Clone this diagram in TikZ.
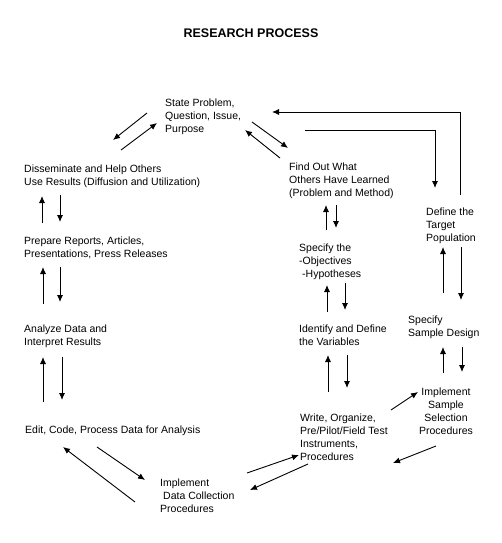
\documentclass[tikz,border=0pt]{standalone}
\usepackage{fontspec}
\setmainfont{Liberation Sans}
\usetikzlibrary{arrows.meta}

\begin{document}
\begin{tikzpicture}[x=1pt,y=-1pt,
  txt/.style={anchor=north west, inner sep=0pt, align=left, font=\fontsize{10.5}{13}\selectfont},
  arr/.style={-{Latex[length=7pt,width=6pt]}, line width=0.9pt}]
\useasboundingbox (0,0) rectangle (502,543);
\node[font=\bfseries\fontsize{12.5}{15}\selectfont] (title) at (251,33) {RESEARCH PROCESS};
% the steps
\node[txt] (state) at (165,99) {State Problem,\\Question, Issue,\\Purpose};
\node[txt] (dissem) at (24,165) {Disseminate and Help Others\\Use Results (Diffusion and Utilization)};
\node[txt] (findout) at (289,163) {Find Out What\\Others Have Learned\\(Problem and Method)};
\node[txt] (define) at (426,208) {Define the\\Target\\Population};
\node[txt] (prep) at (24,237) {Prepare Reports, Articles,\\Presentations, Press Releases};
\node[txt] (specobj) at (299,244) {Specify the\\-Objectives\\\hspace*{3pt}-Hypotheses};
\node[txt] (analyze) at (24,325) {Analyze Data and\\Interpret Results};
\node[txt] (identify) at (299,325) {Identify and Define\\the Variables};
\node[txt] (specsample) at (408,316) {Specify\\Sample Design};
\node[txt] (edit) at (25,426) {Edit, Code, Process Data for Analysis};
\node[txt] (write) at (300,414) {Write, Organize,\\Pre/Pilot/Field Test\\Instruments,\\Procedures};
\node[txt, anchor=north, align=center] (impsample) at (446,388) {Implement\\Sample\\Selection\\Procedures};
\node[txt] (impdata) at (160,479) {Implement\\\hspace*{3pt}Data Collection\\Procedures};

% left column
\draw[arr] ([shift={(18,-14)}]prep.north west) -- ([shift={(18,31)}]dissem.north west);
\draw[arr] ([shift={(36,30)}]dissem.north west) -- ([shift={(36,-15)}]prep.north west);
\draw[arr] ([shift={(19,-21)}]analyze.north west) -- ([shift={(19,30)}]prep.north west);
\draw[arr] ([shift={(36,30)}]prep.north west) -- ([shift={(36,-23)}]analyze.north west);
\draw[arr] ([shift={(18,-24)}]edit.north west) -- ([shift={(19,32)}]analyze.north west);
\draw[arr] ([shift={(38,32)}]analyze.north west) -- ([shift={(37,-26)}]edit.north west);

% middle column
\draw[arr] ([shift={(27,-14)}]specobj.north west) -- ([shift={(37,42)}]findout.north west);
\draw[arr] ([shift={(47,42)}]findout.north west) -- ([shift={(37,-16)}]specobj.north west);
\draw[arr] ([shift={(28,-13)}]identify.north west) -- ([shift={(28,41)}]specobj.north west);
\draw[arr] ([shift={(46,39)}]specobj.north west) -- ([shift={(46,-15)}]identify.north west);
\draw[arr] ([shift={(28,-22)}]write.north west) -- ([shift={(29,30)}]identify.north west);
\draw[arr] ([shift={(48,30)}]identify.north west) -- ([shift={(47,-26)}]write.north west);

% right column
\draw[arr] ([shift={(35,-23)}]specsample.north west) -- ([shift={(17,39)}]define.north west);
\draw[arr] ([shift={(35,39)}]define.north west) -- ([shift={(53,-16)}]specsample.north west);
\draw[arr] ([shift={(-3,-15)}]impsample.north) -- ([shift={(35,31)}]specsample.north west);
\draw[arr] ([shift={(54,31)}]specsample.north west) -- ([shift={(16,-16)}]impsample.north);

% top
\draw[arr] ([shift={(-18,14)}]state.north west) -- ([shift={(89,-25)}]dissem.north west);
\draw[arr] ([shift={(97,-15)}]dissem.north west) -- ([shift={(-8,24)}]state.north west);
\draw[arr] ([shift={(87,23)}]state.north west) -- ([shift={(-1,-15)}]findout.north west);
\draw[arr] ([shift={(-9,-5)}]findout.north west) -- ([shift={(80,31)}]state.north west);
\draw[arr] ([shift={(34,-13)}]define.north west) |- ([shift={(107,13)}]state.north west);
\draw[arr] ([shift={(140,31)}]state.north west) -| ([shift={(9,-20)}]define.north west);

% bottom
\draw[arr] ([shift={(-25,23)}]impdata.north west) -- ([shift={(38,21)}]edit.north west);
\draw[arr] ([shift={(72,21)}]edit.north west) -- ([shift={(-15,1)}]impdata.north west);
\draw[arr] ([shift={(87,-6)}]impdata.north west) -- ([shift={(-1,41)}]write.north west);
\draw[arr] ([shift={(8,50)}]write.north west) -- ([shift={(90,11)}]impdata.north west);
\draw[arr] ([shift={(91,-4)}]write.north west) -- ([shift={(-28,4)}]impsample.north);
\draw[arr] ([shift={(-10,58)}]impsample.north) -- ([shift={(93,49)}]write.north west);
\end{tikzpicture}
\end{document}
